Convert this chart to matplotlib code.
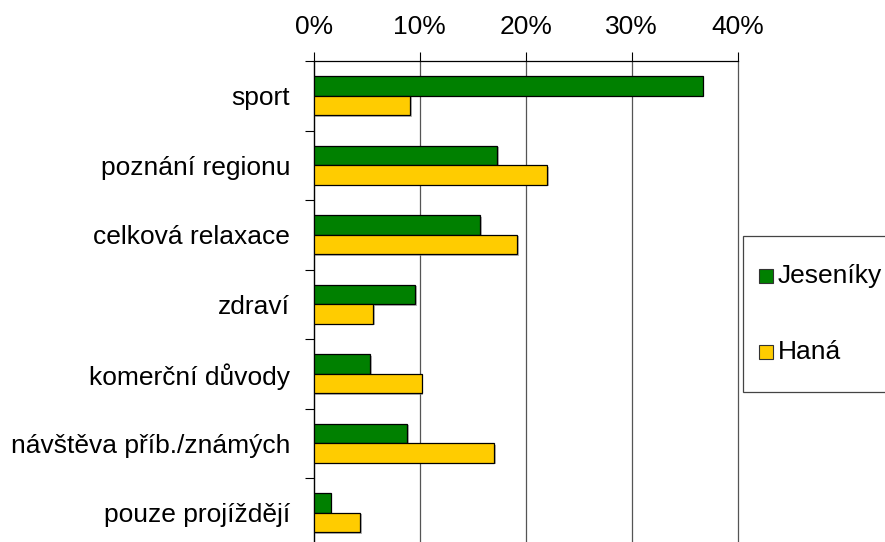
import numpy as np
import matplotlib.pyplot as plt
from matplotlib.patches import Rectangle
import matplotlib.patheffects as pe

plt.rcParams["font.family"] = ["Liberation Sans", "DejaVu Sans"]

# ---------- DATA ----------
categories = [
    "sport",
    "poznání regionu",
    "celková relaxace",
    "zdraví",
    "komerční důvody",
    "návštěva příb./známých",
    "pouze projíždějí",
]
jeseniky = [36.7, 17.3, 15.7, 9.6, 5.3, 8.8, 1.6]
hana = [9.1, 22.0, 19.2, 5.6, 10.2, 17.0, 4.4]
series_names = ["Jeseníky", "Haná"]
series_colors = ["#008000", "#FFCC00"]
x_ticks = [0, 10, 20, 30, 40]
x_tick_labels = ["0%", "10%", "20%", "30%", "40%"]
# ---------------------------

W, H = 885, 542
FS = 19.0


def fx(px):
    return px / W


def fy(py):
    return 1 - py / H


fig = plt.figure(figsize=(W / 100, H / 100), dpi=100)
ax = fig.add_axes([fx(313.7), fy(547.5), fx(737.7) - fx(313.7), (547.5 - 61) / H])

y = np.arange(len(categories))
bh = 0.28
shadow = [pe.SimplePatchShadow(offset=(1.2, -1.2), shadow_rgbFace="#888888", alpha=0.6), pe.Normal()]
for vals, off, col in zip([jeseniky, hana], [-bh / 2, bh / 2], series_colors):
    bars = ax.barh(y + off, vals, height=bh, color=col, edgecolor="black", linewidth=0.9, zorder=3)
    for b in bars:
        b.set_path_effects(shadow)

ax.set_xlim(0, 40)
ax.set_ylim(len(categories) - 0.5, -0.5)

# x axis on top
ax.xaxis.tick_top()
ax.set_xticks(x_ticks)
ax.set_xticklabels(x_tick_labels, fontsize=FS)
ax.tick_params(axis="x", which="major", length=6.5, width=0.8, pad=9, color="black")

# y: ticks at category boundaries, labels at centres
ax.set_yticks(np.arange(-0.5, len(categories) + 0.5, 1.0))
ax.set_yticklabels([])
ax.set_yticks(y, labels=categories, minor=True)
ax.tick_params(axis="y", which="major", length=6.5, width=0.8, color="black")
ax.tick_params(axis="y", which="minor", length=0, pad=17, labelsize=FS)

ax.grid(axis="x", color="#555555", linewidth=0.9)
ax.set_axisbelow(True)
for line in ax.get_xgridlines():
    line.set_clip_on(False)
for s in ["right", "bottom"]:
    ax.spines[s].set_visible(False)
for s in ["left", "top"]:
    ax.spines[s].set_linewidth(0.9)
    ax.spines[s].set_color("black")

# Legend (box runs past the right edge like the original)
fig.patches.append(Rectangle((fx(743.3), fy(391.7)), fx(200), (391.7 - 235.7) / H,
                             transform=fig.transFigure, facecolor="white",
                             edgecolor="#444444", linewidth=0.9))
for name, col, cy in zip(series_names, series_colors, [276, 352]):
    fig.patches.append(Rectangle((fx(759.3), fy(cy + 7)), fx(14), 14 / H,
                                 transform=fig.transFigure, facecolor=col,
                                 edgecolor="#333333", linewidth=0.8))
    fig.text(fx(777.7), fy(cy), name, fontsize=FS, va="center", ha="left")

fig.savefig("out.png", dpi=100)
